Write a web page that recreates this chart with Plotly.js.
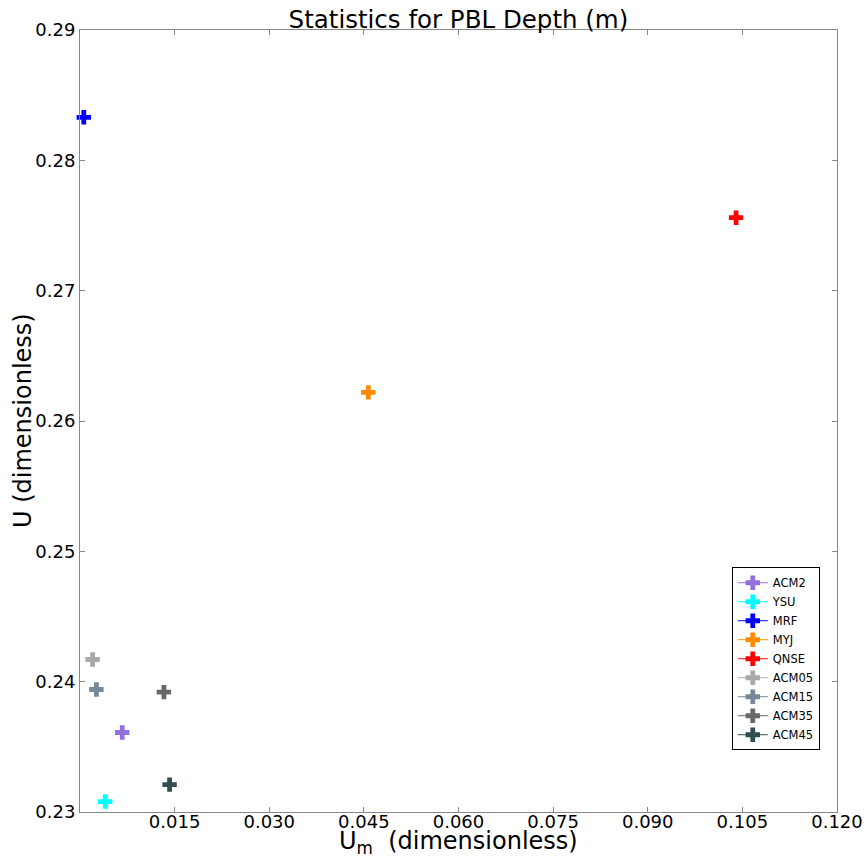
<!DOCTYPE html>
<html>
<head>
<meta charset="utf-8">
<script src="https://cdn.plot.ly/plotly-3.0.1.min.js"></script>
<style>body{margin:0;padding:0;background:#fff}#chart{width:866px;height:857px}</style>
</head>
<body>
<div id="chart"></div>
<script>
const names = ["ACM2","YSU","MRF","MYJ","QNSE","ACM05","ACM15","ACM35","ACM45"];
const umValues = [0.0067,0.0040,0.0006,0.0457,0.1040,0.0020,0.0026,0.0133,0.0142];
const uValues = [0.2361,0.2308,0.2833,0.2622,0.2756,0.2417,0.2394,0.2392,0.2321];
const colors = ["#9370DB","#00FFFF","#0000FF","#FF8C00","#FF0000","#A9A9A9","#778899","#696969","#2F4F4F"];
const xTicks = [0.015,0.030,0.045,0.060,0.075,0.090,0.105,0.120];
const xTickText = ["0.015","0.030","0.045","0.060","0.075","0.090","0.105","0.120"];
const yTicks = [0.23,0.24,0.25,0.26,0.27,0.28,0.29];
const yTickText = ["0.23","0.24","0.25","0.26","0.27","0.28","0.29"];
const xTitle = 'U<sub>m</sub>  (dimensionless)';
const yTitle = 'U (dimensionless)';

const traces = names.map((n,i)=>({
  type:'scatter', mode:'lines+markers', name:n,
  x:[umValues[i]], y:[uValues[i]],
  marker:{symbol:'cross', size:12, color:colors[i], line:{width:0}},
  line:{color:colors[i], width:1},
  cliponaxis:false
}));

const layout = {
  width:866, height:857,
  margin:{l:80, r:29, t:30, b:45},
  paper_bgcolor:'#fff', plot_bgcolor:'#fff',
  font:{family:'DejaVu Sans', color:'#000'},
  title:{text:'Statistics for PBL Depth (m)', font:{size:24.5}, x:0.5294, xanchor:'center', y:0.977, yanchor:'middle'},
  showlegend:true,
  legend:{x:0.861, y:0.313, xanchor:'left', yanchor:'top', bgcolor:'#fff', bordercolor:'#000', borderwidth:1, font:{size:11.5}, tracegroupgap:0, itemwidth:30},
  xaxis:{range:[0,0.12], tickvals:xTicks, ticktext:xTickText, ticks:'inside', ticklen:5, tickcolor:'#888', mirror:'allticks', showline:true, linecolor:'#888', linewidth:1, showgrid:false, zeroline:false, tickfont:{size:18}, ticklabelstandoff:-7},
  yaxis:{range:[0.23,0.29], tickvals:yTicks, ticktext:yTickText, ticks:'inside', ticklen:5, tickcolor:'#888', mirror:'allticks', showline:true, linecolor:'#888', linewidth:1, showgrid:false, zeroline:false, tickfont:{size:18}},
  annotations:[
    {text:xTitle, xref:'paper', yref:'paper', x:0.5, y:0, xanchor:'center', yanchor:'middle', yshift:-30, showarrow:false, font:{size:24}},
    {text:yTitle, xref:'paper', yref:'paper', x:0, y:0.5, xanchor:'center', yanchor:'middle', xshift:-57, textangle:-90, showarrow:false, font:{size:24}}
  ]
};
Plotly.newPlot('chart', traces, layout, {displayModeBar:false});
</script>
</body>
</html>
